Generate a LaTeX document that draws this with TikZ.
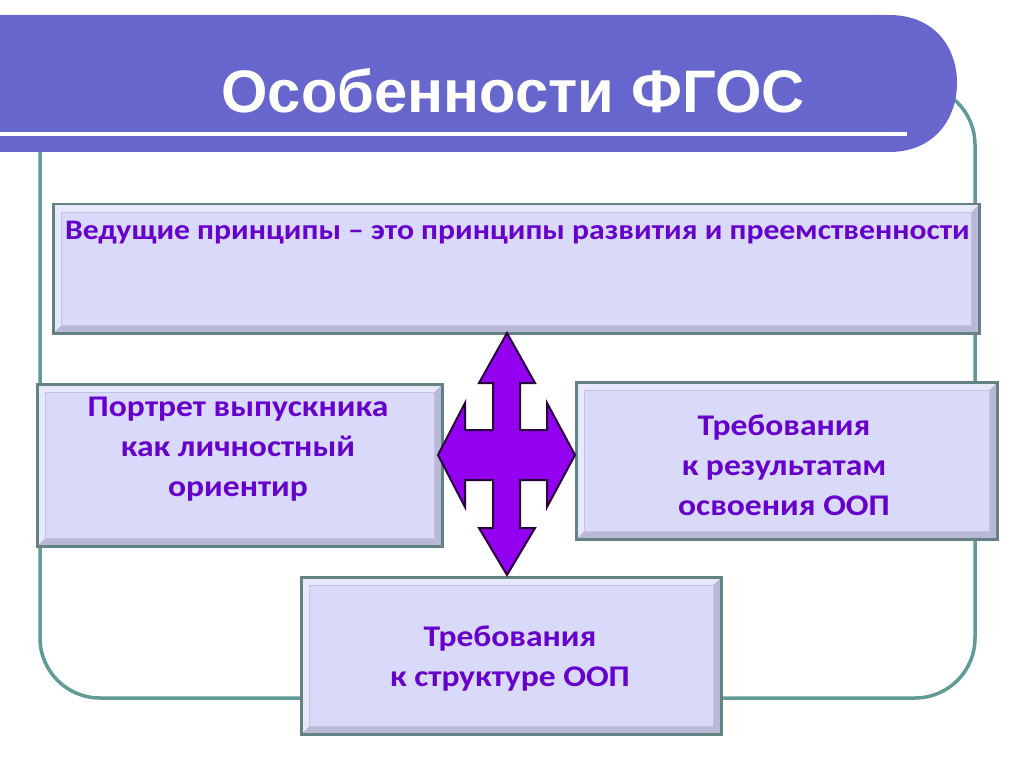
\documentclass[tikz,border=0pt]{standalone}
\usepackage{fontspec}
\setmainfont{Carlito}[FakeStretch=1.12]
\newfontfamily\titlefont{Liberation Sans}
\usetikzlibrary{calc}
\definecolor{barblue}{RGB}{102,102,204}
\definecolor{frameteal}{RGB}{96,155,150}
\definecolor{boxfill}{RGB}{217,217,250}
\definecolor{bevlight}{RGB}{232,232,253}
\definecolor{bevdark}{RGB}{185,185,215}
\definecolor{bevline}{RGB}{195,195,222}
\definecolor{boxedge}{RGB}{100,130,130}
\definecolor{txtpurple}{RGB}{102,0,204}
\definecolor{arrowfill}{RGB}{148,0,240}
\definecolor{arrowedge}{RGB}{40,0,60}
\begin{document}
\begin{tikzpicture}[x=1pt,y=-1pt,
  bevelbox/.style={draw=boxedge, line width=2.5pt, fill=boxfill, inner sep=0pt, anchor=north west,
    path picture={
      \fill[bevlight] (path picture bounding box.north west) -- (path picture bounding box.north east)
        -- ([shift={(-8,8)}]path picture bounding box.north east) -- ([shift={(8,8)}]path picture bounding box.north west)
        -- ([shift={(8,-8)}]path picture bounding box.south west) -- (path picture bounding box.south west) -- cycle;
      \fill[bevdark] (path picture bounding box.south east) -- (path picture bounding box.south west)
        -- ([shift={(8,-8)}]path picture bounding box.south west) -- ([shift={(-8,-8)}]path picture bounding box.south east)
        -- ([shift={(-8,8)}]path picture bounding box.north east) -- (path picture bounding box.north east) -- cycle;
      \draw[bevline, line width=1pt] ([shift={(8,8)}]path picture bounding box.north west) rectangle ([shift={(-8,-8)}]path picture bounding box.south east);
    }},
  boxtext/.style={text=txtpurple, font=\fontsize{30}{40}\selectfont\bfseries, align=center},
  frame/.style={draw=frameteal, line width=3.5pt}
]
\useasboundingbox (0,0) rectangle (1024,767);
\fill[white] (0,0) rectangle (1024,767);
% outer frame
\draw[frame, rounded corners=60pt] (40,85) rectangle (975,698);
% title bar
\fill[barblue] (0,15) -- (889,15) .. controls (935,15) and (957,48) .. (957,83)
  .. controls (957,118) and (935,152) .. (889,152) -- (0,152) -- cycle;
\draw[white, line width=4pt] (0,134) -- (907,134);
\node[text=white, anchor=base, inner sep=0pt] (title) at (513,113)
  {\resizebox{583pt}{44pt}{\titlefont\bfseries Особенности ФГОС}};
% boxes
\node[bevelbox, minimum width=926pt, minimum height=129pt] (top) at (52,203) {};
\node[text=txtpurple, font=\fontsize{28.3}{34}\selectfont\bfseries, anchor=base west, inner sep=0pt] (toptext)
  at (65,240) {Ведущие принципы – это принципы развития и преемственности};
\node[bevelbox, minimum width=405pt, minimum height=162pt] (left) at (36,383) {};
\node[boxtext] (lefttext) at (238,449) {Портрет выпускника\\как личностный\\ориентир};
\node[bevelbox, minimum width=421pt, minimum height=157pt] (right) at (575,381) {};
\node[boxtext] (righttext) at (784,465) {Требования\\к результатам\\освоения ООП};
\node[bevelbox, minimum width=420pt, minimum height=157pt] (bottom) at (300,576) {};
\node[boxtext] (bottomtext) at (510,659) {Требования\\к структуре ООП};
% four-way arrow
\filldraw[fill=arrowfill, draw=arrowedge, line width=2pt, line join=miter]
  (507,333) -- (535,383) -- (520,383) -- (520,430) -- (547,430) -- (547,403) -- (575,455)
  -- (547,507) -- (547,480) -- (520,480) -- (520,528) -- (535,528) -- (507,575)
  -- (479,528) -- (493,528) -- (493,480) -- (465,480) -- (465,507) -- (438,455)
  -- (465,403) -- (465,430) -- (493,430) -- (493,383) -- (479,383) -- cycle;
\end{tikzpicture}
\end{document}
